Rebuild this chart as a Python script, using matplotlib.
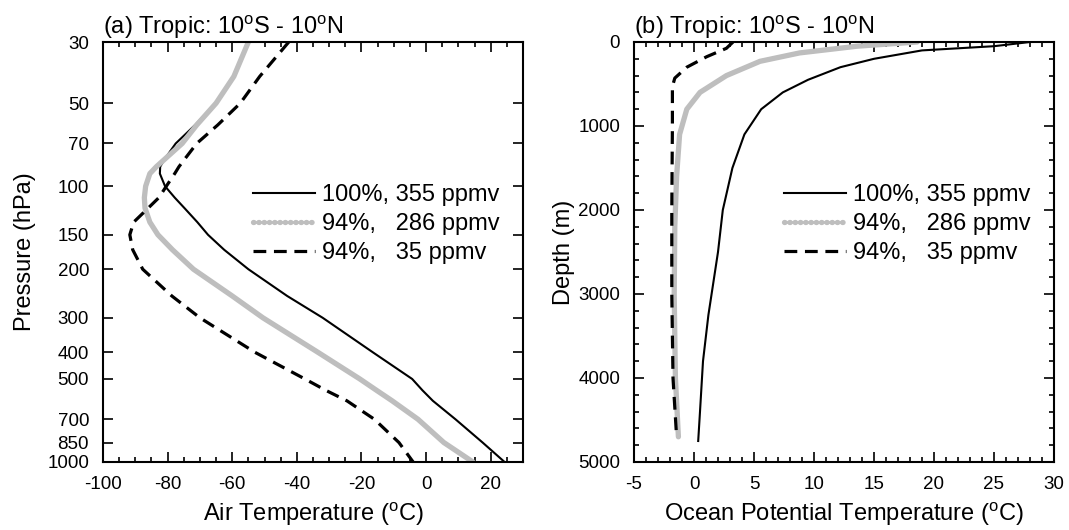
import numpy as np
import matplotlib
matplotlib.use("Agg")
import matplotlib.pyplot as plt
from matplotlib.ticker import MultipleLocator, NullLocator

plt.rcParams["font.family"] = ["Liberation Sans", "DejaVu Sans"]
plt.rcParams["mathtext.fontset"] = "custom"
plt.rcParams["mathtext.rm"] = "Liberation Sans"
plt.rcParams["mathtext.it"] = "Liberation Sans:italic"
plt.rcParams["axes.unicode_minus"] = False

# ---- data ----
labels = ["100%, 355 ppmv", "94%,   286 ppmv", "94%,   35 ppmv"]

# (a) air temperature profiles
pres = [30, 40, 50, 60, 70, 80, 85, 90, 100, 110, 120, 135, 150, 170, 200,
        250, 300, 400, 500, 550, 600, 700, 850, 1000]
air_355 = [-55, -59.5, -65, -71.5, -77.5, -81, -82.3, -82.4, -80.8, -77.8, -74.8,
           -70.8, -67.5, -62.5, -55, -43, -32, -16.5, -4.3, -1.1, 2.1, 9.1, 17.5, 24.3]
air_286 = [-55, -59.5, -65, -71, -75.5, -81, -83.5, -85.5, -86.8, -87.2, -87,
           -85.5, -83, -78.5, -72, -60, -50.5, -33.5, -20.5, -15.3, -10.5, -2.5, 5.5, 14.5]
air_35 = [-42.5, -51.5, -57.5, -64.5, -71, -74.8, -76.5, -77.8, -80.4, -82.7, -86,
          -90.5, -91.7, -90.8, -87.7, -78.7, -70, -53, -37.5, -31, -24.5, -16, -8.4, -4]

p_ticks = [30, 50, 70, 100, 150, 200, 300, 400, 500, 700, 850, 1000]

# (b) ocean potential temperature profiles
depth_355 = [0, 50, 100, 200, 300, 450, 600, 800, 1100, 1500, 2000, 2500, 3250,
             3800, 4400, 4750]
ocean_355 = [28, 25, 19, 15, 12.2, 9.5, 7.4, 5.6, 4.2, 3.2, 2.4, 2.0, 1.2, 0.75,
             0.5, 0.35]
depth_286 = [0, 50, 130, 230, 400, 600, 800, 1100, 1600, 2200, 3000, 4000, 4700]
ocean_286 = [18.6, 13.6, 8.8, 5.5, 2.7, 0.5, -0.6, -1.2, -1.45, -1.6, -1.65,
             -1.55, -1.3]
depth_35 = [0, 75, 175, 300, 430, 530, 1000, 2000, 3000, 4000, 4700]
ocean_35 = [3.25, 2.7, 1.06, -0.6, -1.6, -1.8, -1.8, -1.85, -1.85, -1.75, -1.45]

deg = r"$^{\mathrm{o}}$"
title = f"Tropic: 10{deg}S - 10{deg}N"


def style_axes(ax):
    for sp in ax.spines.values():
        sp.set_linewidth(1.5)
    ax.tick_params(which="both", direction="in", top=True, right=True,
                   labelsize=13.5, pad=10, width=1.2)
    ax.tick_params(which="major", length=7)
    ax.tick_params(which="minor", length=3.8)


def draw_lines(ax, xs, ys):
    ax.plot(xs[0], ys[0], color="black", lw=1.5, label=labels[0])
    ax.plot(xs[1], ys[1], color="#bebebe", lw=3.8, label=labels[1],
            solid_capstyle="round")
    ax.plot(xs[2], ys[2], color="black", lw=2.3, label=labels[2],
            linestyle=(0, (4, 2.4)))
    leg = ax.legend(loc="center left", bbox_to_anchor=(0.357, 0.567), frameon=False,
                    fontsize=17, handlelength=2.63, handletextpad=0.3,
                    labelspacing=0.3, borderpad=0, borderaxespad=0)
    # the gray handle is drawn as a chain of dots in the original
    leg.get_lines()[1].set_linestyle((0, (0.1, 0.9)))
    leg.get_lines()[1].set_dash_capstyle("round")


fig = plt.figure(figsize=(10.69, 5.30), dpi=100)
ax1 = fig.add_axes([103 / 1069, 1 - 462 / 530, 420 / 1069, 420 / 530])
ax2 = fig.add_axes([634 / 1069, 1 - 462 / 530, 420 / 1069, 420 / 530])

# panel (a)
draw_lines(ax1, [air_355, air_286, air_35], [pres, pres, pres])
ax1.set_yscale("log")
ax1.set_ylim(1000, 30)
ax1.set_xlim(-100, 30)
ax1.set_yticks(p_ticks)
ax1.set_yticklabels([str(p) for p in p_ticks])
ax1.yaxis.set_minor_locator(NullLocator())
ax1.xaxis.set_major_locator(MultipleLocator(20))
ax1.xaxis.set_minor_locator(MultipleLocator(5))
style_axes(ax1)
ax1.set_xlabel(f"Air Temperature ({deg}C)", fontsize=17, labelpad=6)
ax1.set_ylabel("Pressure (hPa)", fontsize=17, labelpad=8)
ax1.set_title("(a) " + title, loc="left", fontsize=17, pad=6)

# panel (b)
draw_lines(ax2, [ocean_355, ocean_286, ocean_35], [depth_355, depth_286, depth_35])
ax2.set_ylim(5000, 0)
ax2.set_xlim(-5, 30)
ax2.xaxis.set_major_locator(MultipleLocator(5))
ax2.xaxis.set_minor_locator(MultipleLocator(1))
ax2.yaxis.set_major_locator(MultipleLocator(1000))
ax2.yaxis.set_minor_locator(MultipleLocator(200))
style_axes(ax2)
ax2.set_xlabel(f"Ocean Potential Temperature ({deg}C)", fontsize=17, labelpad=6)
ax2.set_ylabel("Depth (m)", fontsize=17, labelpad=2)
ax2.set_title("(b) " + title, loc="left", fontsize=17, pad=6)

fig.savefig("out.png", dpi=100)
